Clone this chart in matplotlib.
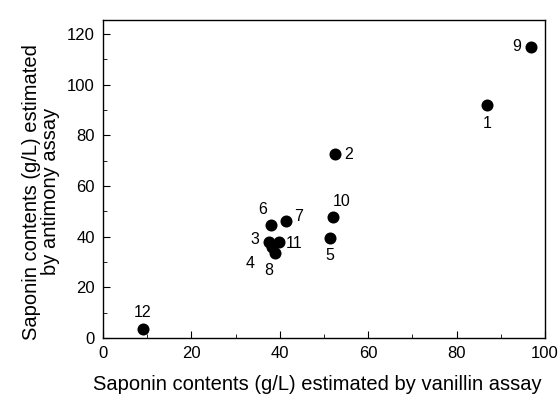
import matplotlib
matplotlib.use("Agg")
import matplotlib.pyplot as plt
from matplotlib.ticker import MultipleLocator

plt.rcParams['font.family'] = ['Liberation Sans', 'DejaVu Sans']

# Saponin contents of 12 samples (g/L)
sample_ids = ['1', '2', '3', '4', '5', '6', '7', '8', '9', '10', '11', '12']
vanillin = [86.9, 52.5, 37.6, 38.3, 51.4, 38.0, 41.4, 39.0, 96.8, 52.0, 39.8, 9.0]
antimony = [92.0, 72.5, 38.0, 36.0, 39.6, 44.8, 46.3, 33.6, 115.0, 47.9, 38.0, 3.6]

# Label offsets in points (dx, dy) and alignments
label_offsets = {
    '1': (0, -13, 'center', 'center'),
    '2': (7, 0, 'left', 'center'),
    '3': (-7, 2, 'right', 'center'),
    '4': (-13, -12, 'right', 'center'),
    '5': (0, -13, 'center', 'center'),
    '6': (-6, 11, 'center', 'center'),
    '7': (6, 3, 'left', 'center'),
    '8': (-5, -13, 'center', 'center'),
    '9': (-7, 0, 'right', 'center'),
    '10': (6, 11, 'center', 'center'),
    '11': (5, -1, 'left', 'center'),
    '12': (0, 12, 'center', 'center'),
}

fig = plt.figure(figsize=(5.6, 3.94), dpi=100)
ax = fig.add_axes([0.184, 0.142, 0.789, 0.807])

ax.scatter(vanillin, antimony, s=75, color='black', zorder=3, linewidths=0)

for sid, x, y in zip(sample_ids, vanillin, antimony):
    dx, dy, ha, va = label_offsets[sid]
    ax.annotate(sid, (x, y), xytext=(dx, dy), textcoords='offset points',
                ha=ha, va=va, fontsize=11.5)

ax.set_xlim(0, 100)
ax.set_ylim(0, 125.5)
ax.xaxis.set_major_locator(MultipleLocator(20))
ax.xaxis.set_minor_locator(MultipleLocator(10))
ax.yaxis.set_major_locator(MultipleLocator(20))
ax.yaxis.set_minor_locator(MultipleLocator(10))
ax.tick_params(which='both', direction='in', labelsize=12, top=False, right=False)
ax.tick_params(which='major', length=5, pad=6)
ax.tick_params(which='minor', length=3)
for sp in ax.spines.values():
    sp.set_linewidth(1.0)

ax.set_xlabel('Saponin contents (g/L) estimated by vanillin assay', fontsize=14.5)
ax.set_ylabel('Saponin contents (g/L) estimated\nby antimony assay', fontsize=14.5,
              linespacing=1.0)
ax.xaxis.set_label_coords(0.484, -0.115)
ax.yaxis.set_label_coords(-0.097, 0.46)

fig.savefig('out.png', dpi=100)
